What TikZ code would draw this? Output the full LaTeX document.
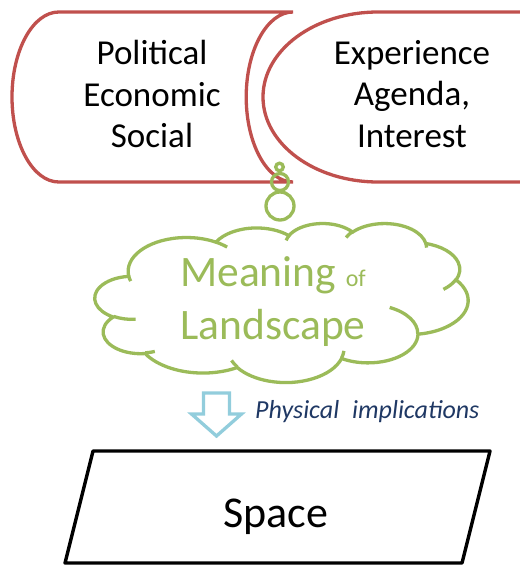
\documentclass[tikz,border=0pt]{standalone}
\usepackage{fontspec}
\setmainfont{Carlito}
\definecolor{shapered}{RGB}{192,80,77}
\definecolor{cloudgreen}{RGB}{155,187,89}
\definecolor{arrowblue}{RGB}{146,205,220}
\definecolor{notenavy}{RGB}{31,56,100}
\tikzset{
  redline/.style={draw=shapered,line width=3.3pt},
  greenline/.style={draw=cloudgreen,line width=3.3pt},
  boxtext/.style={font=\fontsize{35}{41.5}\selectfont,align=center,inner sep=0pt},
  carc/.style n args={4}{x radius=#1,y radius=#2,
    start angle={atan2(#1*sin(#3),#2*cos(#3))},
    delta angle={Mod(atan2(#1*sin(#3+#4),#2*cos(#3+#4))-atan2(#1*sin(#3),#2*cos(#3)),360)}}
}
\begin{document}
\begin{tikzpicture}[x=1pt,y=-1pt]
    \useasboundingbox (0,0) rectangle (519,567);
    \draw[redline,fill=white] (58.8,12)--(293,12)
        arc[start angle=-90,end angle=-270,x radius=46.8,y radius=85]
        --(58.8,182) arc[start angle=90,end angle=270,x radius=46.8,y radius=85]--cycle;
    \draw[redline,fill=white] (521,12)--(378,12)
        arc[start angle=-90,end angle=-270,x radius=115,y radius=85]--(521,182);
    \node[boxtext] (forces) at (152,94) {Political\\Economic\\Social};
    \node[boxtext] (actors) at (412,94) {Experience\\Agenda,\\Interest};
    %云形：按 PowerPoint 云形的弧段画，角度为视角，换成参数角。
    \begin{scope}[shift={(95pt,-223pt)},x=0.086343pt,y=-0.036806pt]
        \draw[greenline,fill=white] (390,1437)
            arc[carc={675.3}{919.0}{-190.4875}{123.7805}]
            arc[carc={533.3}{726.7}{-144.1024}{89.9452}]
            arc[carc={436.5}{594.5}{-145.8079}{99.7230}]
            arc[carc={485.7}{659.5}{-130.9861}{117.2417}]
            arc[carc={533.3}{727.3}{-78.7089}{109.0269}]
            arc[carc={677.5}{922.0}{-46.2673}{130.2690}]
            arc[carc={578.5}{786.7}{0.6250}{114.0333}]
            arc[carc={675.2}{921.5}{22.4516}{115.1726}]
            arc[carc={772.0}{1054.3}{66.2426}{75.7110}]
            arc[carc={436.0}{591.8}{-274.9421}{146.7356}]
            arc[carc={434.5}{594.5}{-246.8285}{152.5189}]--cycle;
        \draw[greenline]
            (469.3,2617.7) arc[carc={434.5}{594.5}{86.7420}{26.4295}]
            (692.8,3489.9) arc[carc={436.0}{591.8}{73.6105}{11.4475}]
            (1647.8,3909.0) arc[carc={675.2}{921.5}{137.6242}{14.0811}]
            (2882.7,3475.1) arc[carc={675.2}{921.5}{6.4533}{15.9984}]
            (3412.9,2295.4) arc[carc={578.5}{786.7}{-70.2924}{70.9174}]
            (4179.8,1535.4) arc[carc={533.3}{727.3}{30.3180}{27.7515}]
            (3832.4,542.6) arc[carc={485.7}{659.5}{-13.7443}{14.8589}]
            (2907.8,395.2) arc[carc={485.7}{659.5}{-149.1815}{18.1954}]
            (2214.1,472.0) arc[carc={436.5}{594.5}{-163.4943}{17.6864}]
            (1400.0,519.2) arc[carc={675.3}{919.0}{-66.7070}{12.3194}]
            (412.7,1578.9) arc[carc={675.3}{919.0}{157.6544}{11.8582}];
    \end{scope}
    \node[font=\fontsize{43.5}{53}\selectfont,align=center,inner sep=0pt,text=cloudgreen] (meaning)
        at (273,302) {Meaning {\fontsize{24}{28}\selectfont of}\\Landscape};
    \draw[greenline] (279.5,167) circle(3.8);
    \draw[greenline] (280,182) circle(8.5);
    \draw[greenline] (280,206) circle(14);
    \draw[draw=arrowblue,line width=3.3pt,fill=white] (203.5,393)--(229.5,393)--(229.5,414)--(241.5,414)
        --(216.5,436)--(191.5,414)--(203.5,414)--cycle;
    \node[anchor=base west,inner sep=0pt,text=notenavy,font=\fontsize{26}{31}\selectfont\itshape] (note)
        at (255,418) {Physical\enspace implications};
    \coordinate (A) at (93,451);
    \coordinate (B) at (490,451);
    \coordinate (C) at (462,563);
    \coordinate (D) at (65,563);
    \draw[line width=3.4pt,line join=round] (A)--(B)--(C)--(D)--cycle;
    \node[anchor=base,inner sep=0pt,font=\fontsize{44}{53}\selectfont] (space) at (275.5,527) {Space};
\end{tikzpicture}
\end{document}
